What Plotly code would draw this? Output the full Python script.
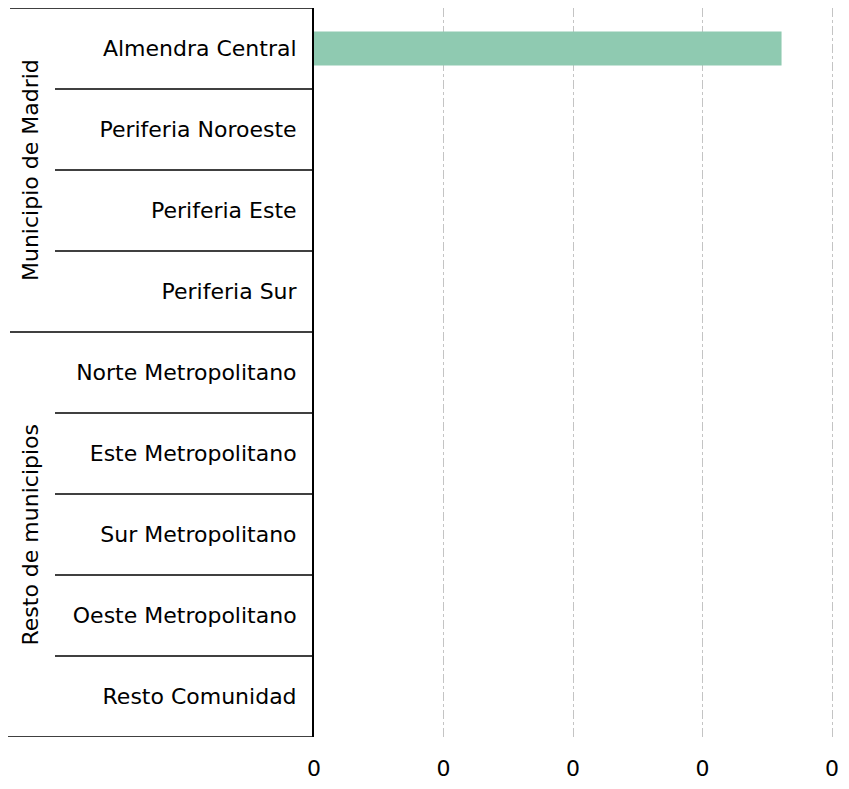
import plotly.graph_objects as go

# ---- data ----
groups = ["Municipio de Madrid"] * 4 + ["Resto de municipios"] * 5
zones = ["Almendra Central", "Periferia Noroeste", "Periferia Este", "Periferia Sur",
         "Norte Metropolitano", "Este Metropolitano", "Sur Metropolitano",
         "Oeste Metropolitano", "Resto Comunidad"]
values = [0.361, 0, 0, 0, 0, 0, 0, 0, 0]
x_ticks = [0, 0.1, 0.2, 0.3, 0.4]

FONT = "DejaVu Sans"
OFF = 8  # page body margin
W, H = 849 - 2 * OFF, 789 - 2 * OFF
ML, MR, MT, MB = 314 - OFF, 7, 0, 38
PW = W - ML - MR

def px_to_paper(px):
    # px given in page coordinates
    return (px - OFF - ML) / PW

fig = go.Figure(go.Bar(
    y=zones, x=values, orientation="h",
    marker=dict(color="#8fcab1", line=dict(width=0)),
    width=0.42,
))

shapes = []
n = len(zones)
for i in range(n + 1):
    b = i - 0.5
    is_group_edge = (i == 0 or i == n or groups[i] != groups[i - 1])
    x0 = px_to_paper(6 if i == n else 10) if is_group_edge else px_to_paper(55)
    shapes.append(dict(type="line", xref="paper", yref="y", x0=x0, x1=0,
                       y0=b, y1=b, line=dict(color="#000000", width=1.6)))

annotations = []
seen = []
for g in groups:
    if g not in seen:
        seen.append(g)
for g in seen:
    idx = [i for i, gg in enumerate(groups) if gg == g]
    center = (idx[0] + idx[-1]) / 2
    annotations.append(dict(text=g, xref="paper", yref="y", x=px_to_paper(30), y=center,
                            textangle=-90, showarrow=False,
                            font=dict(family=FONT, size=22, color="#000000"),
                            xanchor="center", yanchor="middle"))

fig.update_layout(
    width=W, height=H,
    margin=dict(l=ML, r=MR, t=MT, b=MB),
    plot_bgcolor="white", paper_bgcolor="white",
    showlegend=False,
    font=dict(family=FONT, size=22, color="#000000"),
    shapes=shapes, annotations=annotations,
    xaxis=dict(range=[0, 0.4015], tickvals=x_ticks, tickformat=".0f",
               showgrid=True, gridcolor="#c4c4c4", gridwidth=1, griddash="dashdot",
               zeroline=False, showline=False, ticks="", ticklabelstandoff=16,
               ticklabeloverflow="allow",
               tickfont=dict(family=FONT, size=22, color="#000000")),
    yaxis=dict(categoryorder="array", categoryarray=zones,
               range=[n - 0.5, -0.5], showgrid=False, zeroline=False,
               showline=True, linecolor="#000000", linewidth=2,
               ticks="", ticklabelstandoff=11,
               tickfont=dict(family=FONT, size=22, color="#000000")),
)

fig.write_html("out.html")
